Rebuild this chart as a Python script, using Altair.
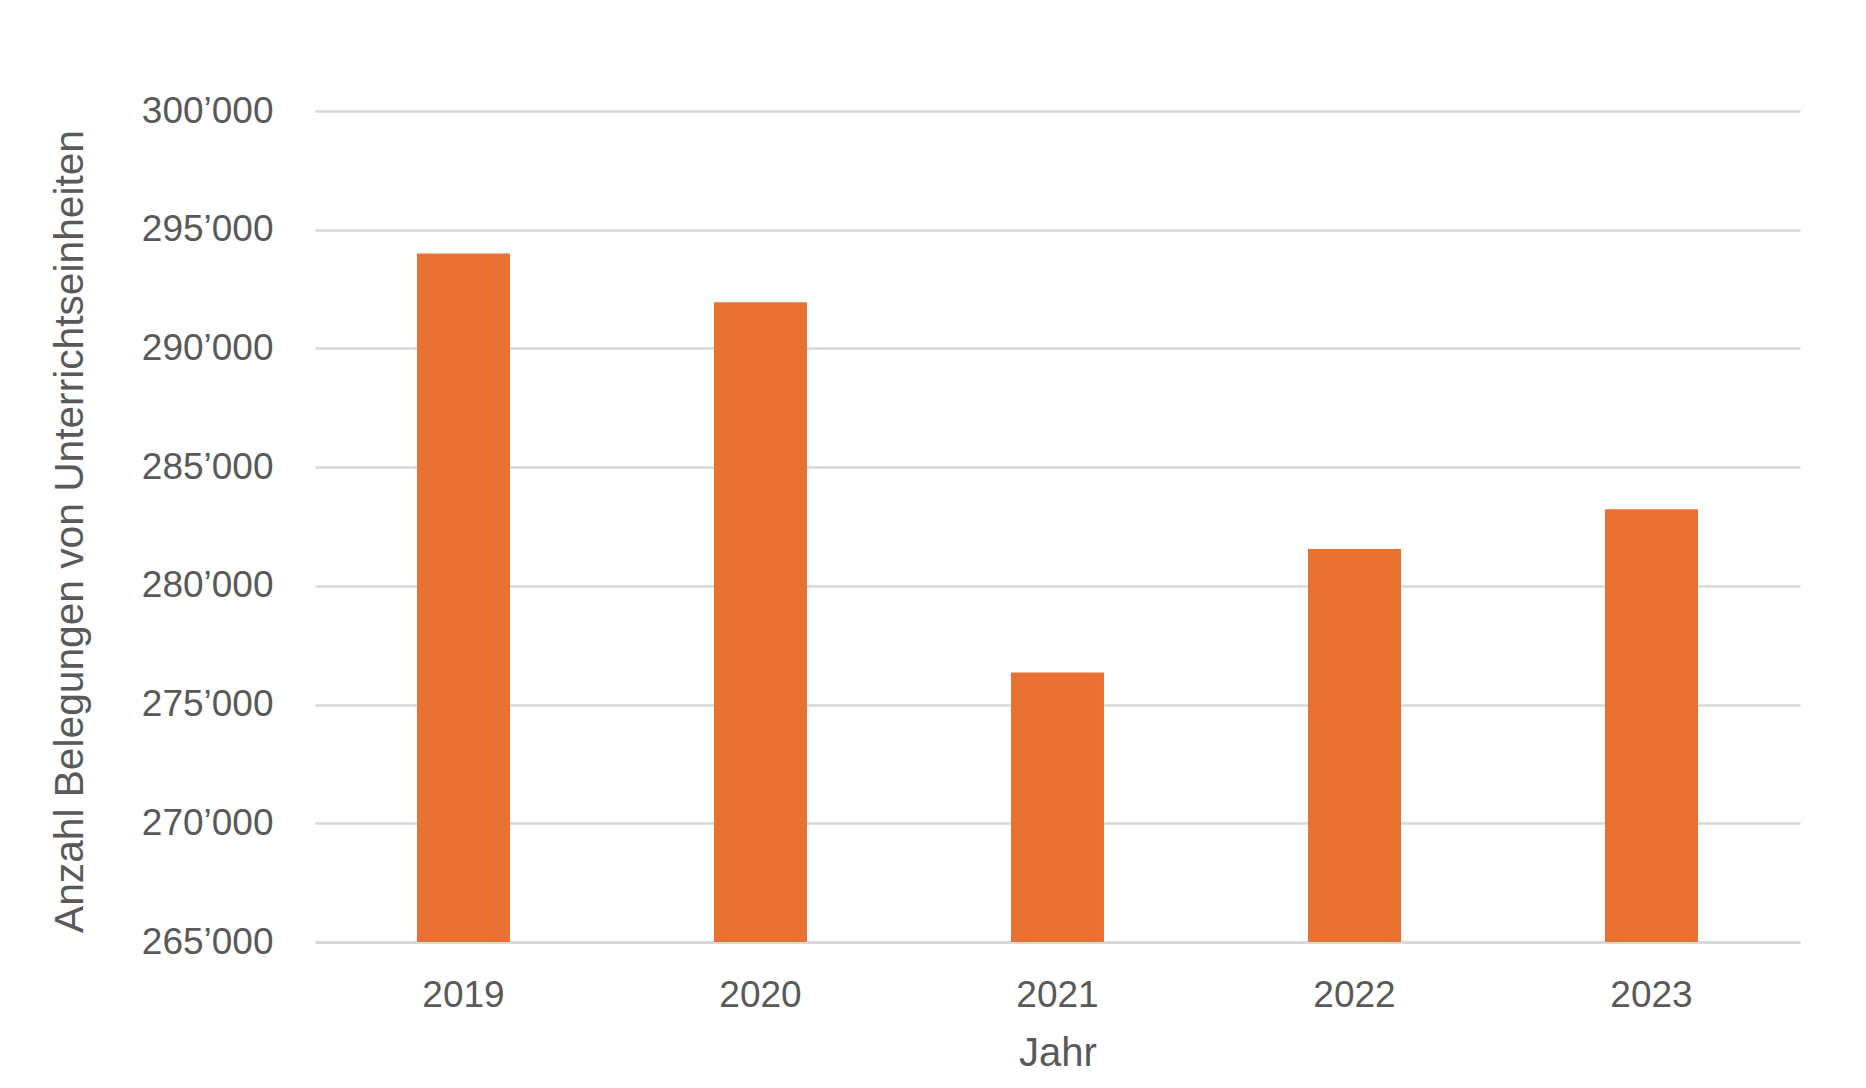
import altair as alt
import pandas as pd

years = ["2019", "2020", "2021", "2022", "2023"]
values = [294000, 291950, 276350, 281550, 283230]
y_ticks = [265000, 270000, 275000, 280000, 285000, 290000, 295000, 300000]

df = pd.DataFrame({"Jahr": years, "Anzahl": values})

TEXT = "#595959"
GRID = "#d9d9d9"
FONT = "Liberation Sans"

chart = (
    alt.Chart(df)
    .mark_bar(color="#E97132")
    .encode(
        x=alt.X(
            "Jahr:N",
            sort=years,
            scale=alt.Scale(paddingInner=0.687, paddingOuter=0.3435),
            axis=alt.Axis(
                title="Jahr",
                labelAngle=0,
                labelFontSize=37,
                labelColor=TEXT,
                labelFont=FONT,
                labelPadding=35,
                ticks=False,
                tickSize=0,
                domain=True,
                domainColor=GRID,
                domainWidth=3,
                grid=False,
                titleFontSize=40,
                titleFont=FONT,
                titleColor=TEXT,
                titleFontWeight="normal",
                titleX=742.5,
                titleY=91,
                titleBaseline="top",
            ),
        ),
        y=alt.Y(
            "Anzahl:Q",
            scale=alt.Scale(domain=[265000, 300000], zero=False, nice=False),
            axis=alt.Axis(
                title="Anzahl Belegungen von Unterrichtseinheiten",
                values=y_ticks,
                labelExpr="replace(format(datum.value, ','), ',', '’')",
                labelFontSize=37,
                labelColor=TEXT,
                labelFont=FONT,
                labelPadding=42,
                ticks=False,
                tickSize=0,
                domain=False,
                grid=True,
                gridColor=GRID,
                gridWidth=2.7,
                titleFontSize=40.7,
                titleFont=FONT,
                titleColor=TEXT,
                titleFontWeight="normal",
                titleX=-224,
                titleY=420,
            ),
        ),
        y2=alt.datum(265000),
    )
    .properties(
        width=1485,
        height=831,
        autosize=alt.AutoSizeParams(type="none"),
        padding={"left": 307, "top": 103, "right": 58, "bottom": 138},
        background="white",
    )
    .configure_view(stroke=None)
)

chart.save("out.html", embed_options={"renderer": "svg", "actions": False})
